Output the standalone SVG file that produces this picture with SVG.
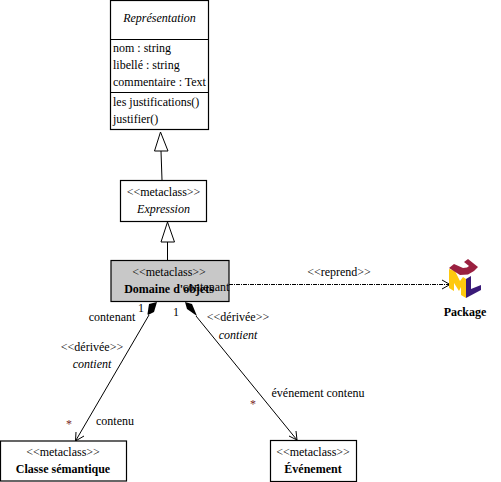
<svg xmlns="http://www.w3.org/2000/svg" width="501" height="482" viewBox="0 0 501 482">
<style>
text{font-family:"Liberation Serif","Times New Roman",serif;font-size:12px;fill:#000}
.c{text-anchor:middle}
.b{font-weight:bold}
.i{font-style:italic}
.box{fill:#fff;stroke:#000;stroke-width:1.2}
.sep{stroke:#000;stroke-width:1.2;fill:none}
.ln{stroke:#000;stroke-width:1;fill:none}
.m{fill:#7a1f1f}
</style>
<rect width="501" height="482" fill="#fff"/>
<g id="connectors">
<path class="ln" d="M161 151L162 180"/>
<path class="ln" d="M160.500 132L154.500 151H168Z"/>
<path class="ln" d="M167.500 242V260"/>
<path class="ln" d="M167.500 222L161 242H174.500Z"/>
<path class="ln" stroke-dasharray="4 1 1 1" d="M229 284.500H450"/>
<path class="ln" d="M442 280L450 284.500L442 289"/>
<path class="ln" d="M149 315L75.500 441"/>
<path d="M157 302L149 304L147.500 314L148 315L154 312Z" fill="#000"/>
<path class="ln" d="M76 432L75.500 441L84 436"/>
<path class="ln" d="M196 316L297 440"/>
<path d="M185 302L192 304L197 316L187 309Z" fill="#000"/>
<path class="ln" d="M289 436L297 440L296 431"/>
<text x="112" y="321" class="c">contenant</text>
<text x="141" y="312" class="c">1</text>
<text x="176" y="316" class="c">1</text>
<text x="92" y="351" class="c">&lt;&lt;dérivée&gt;&gt;</text>
<text x="92" y="368" class="c i">contient</text>
<text x="238" y="321" class="c">&lt;&lt;dérivée&gt;&gt;</text>
<text x="238" y="339" class="c i">contient</text>
<text x="318" y="397" class="c">événement contenu</text>
<text x="253" y="408" class="c m">*</text>
<text x="69" y="428" class="c m">*</text>
<text x="115" y="425" class="c">contenu</text>
<text x="339" y="276" class="c">&lt;&lt;reprend&gt;&gt;</text>
</g>
<g id="representation">
<rect class="box" x="110.500" y="0.500" width="98" height="129"/>
<path class="sep" d="M110.500 39.500H208.500M110.500 92.500H208.500"/>
<text x="159.500" y="22" class="c i">Représentation</text>
<text x="113" y="52">nom : string</text>
<text x="113" y="69">libellé : string</text>
<text x="113" y="86">commentaire : Text</text>
<text x="113" y="106">les justifications()</text>
<text x="113" y="123">justifier()</text>
</g>
<g id="expression">
<rect class="box" x="120.500" y="180.500" width="86" height="41"/>
<text x="163.500" y="196" class="c">&lt;&lt;metaclass&gt;&gt;</text>
<text x="163.500" y="213" class="c i">Expression</text>
</g>
<g id="domaine">
<rect x="111" y="260.500" width="118" height="41" fill="#c8c8c8" stroke="#000" stroke-width="1.200"/>
<text x="169" y="276" class="c">&lt;&lt;metaclass&gt;&gt;</text>
<text x="169" y="293" class="c b">Domaine d'objets</text>
<text x="206" y="291" class="c">contenant</text>
</g>
<g id="package">
<path d="M449 269L455 271L460 281L463 277L466 279V298L461 295V287L459 291L454 283V291L449 288Z" fill="#ffc90e"/>
<path d="M466 279L471 276V289L481 285V290L466 298Z" fill="#3a1a78"/>
<path d="M449 268L454 264L463 268L467 267.500L469 266L464 262L468 259L478 267L474 271L468 274.500L460 275Z" fill="#9a2040"/>
<text x="465" y="316" class="c b">Package</text>
</g>
<g id="classe">
<rect class="box" x="0.500" y="441" width="126" height="40"/>
<text x="63" y="456" class="c">&lt;&lt;metaclass&gt;&gt;</text>
<text x="63" y="473" class="c b">Classe sémantique</text>
</g>
<g id="evenement">
<rect class="box" x="270.500" y="440.500" width="86" height="41"/>
<text x="313" y="456" class="c">&lt;&lt;metaclass&gt;&gt;</text>
<text x="313" y="473" class="c b">Événement</text>
</g>
</svg>
